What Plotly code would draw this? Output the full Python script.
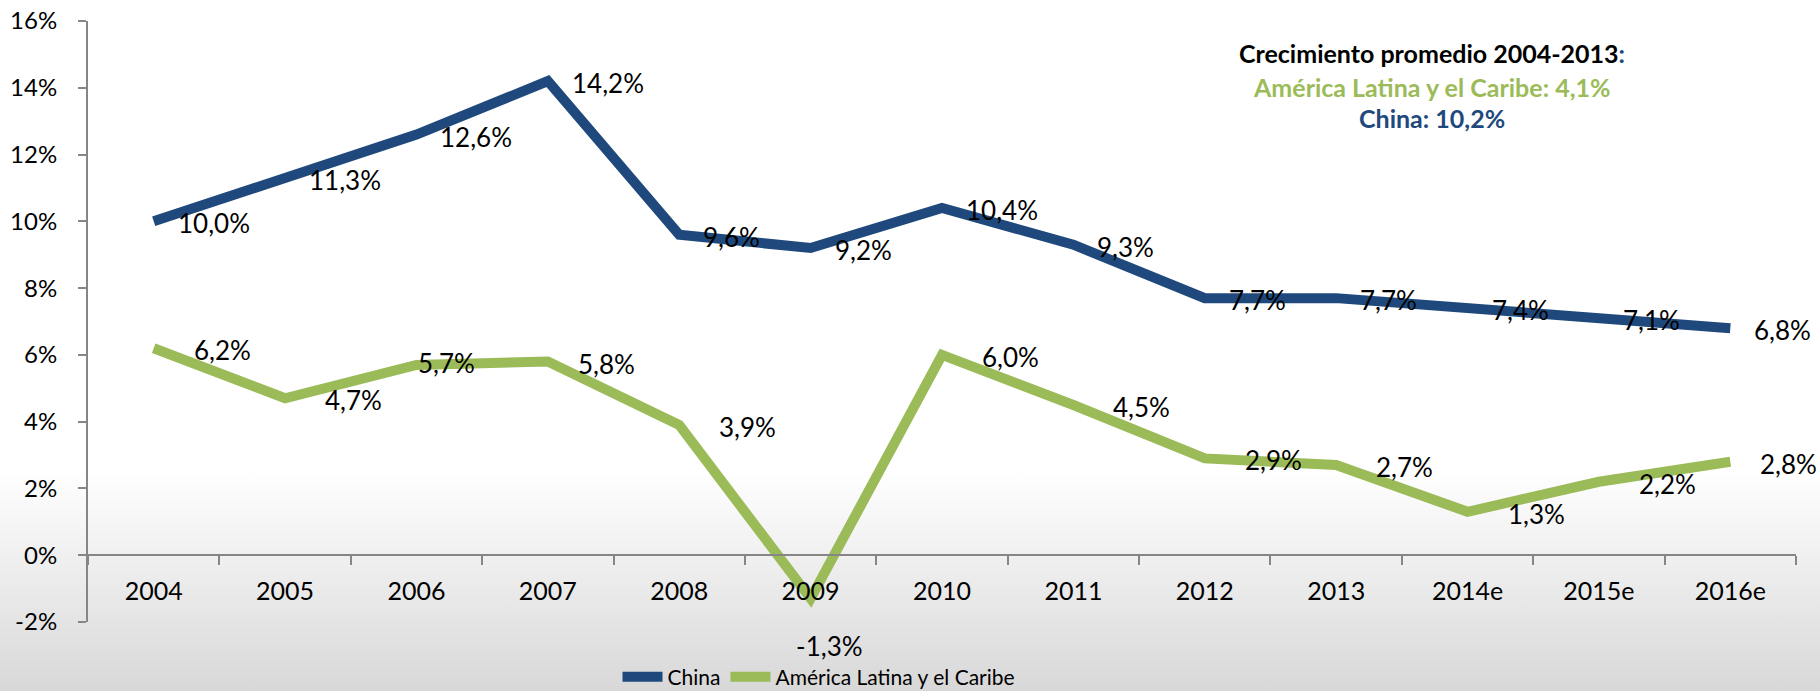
import base64

import plotly.graph_objects as go

years = ["2004", "2005", "2006", "2007", "2008", "2009", "2010",
         "2011", "2012", "2013", "2014e", "2015e", "2016e"]
china = [10.0, 11.3, 12.6, 14.2, 9.6, 9.2, 10.4, 9.3, 7.7, 7.7, 7.4, 7.1, 6.8]
latam = [6.2, 4.7, 5.7, 5.8, 3.9, -1.3, 6.0, 4.5, 2.9, 2.7, 1.3, 2.2, 2.8]
y_ticks = [-2, 0, 2, 4, 6, 8, 10, 12, 14, 16]

BLUE = "#1F497D"
GREEN = "#9BBB59"
FONT = "Lato, 'Open Sans', sans-serif"

W, H = 1820, 691
ML, MR, MT, MB = 88, 24, 21, 69
PW, PH = W - ML - MR, H - MT - MB


def px_x(p):
    return (p - ML) / PW


def px_y(p):
    return (H - MB - p) / PH


def pct(v):
    return f"{v:.1f}%".replace(".", ",")


# soft grey fade at the bottom of the page
svg = (
    '<svg xmlns="http://www.w3.org/2000/svg" width="100" height="100" '
    'viewBox="0 0 100 100" preserveAspectRatio="none"><defs>'
    '<linearGradient id="g" x1="0" y1="0" x2="0" y2="1">'
    '<stop offset="0" stop-color="#ffffff"/>'
    '<stop offset="0.68" stop-color="#ffffff"/>'
    '<stop offset="1" stop-color="#d8d8d8"/>'
    '</linearGradient></defs>'
    '<rect width="100" height="100" fill="url(#g)"/></svg>'
)
bg_src = "data:image/svg+xml;base64," + base64.b64encode(svg.encode()).decode()

fig = go.Figure()
fig.add_trace(go.Scatter(x=years, y=china, name="China", mode="lines",
                         line={"color": BLUE, "width": 10}))
fig.add_trace(go.Scatter(x=years, y=latam, name="América Latina y el Caribe",
                         mode="lines", line={"color": GREEN, "width": 10}))

# annotations on a category axis take the category index
label_font = {"family": FONT, "size": 26, "color": "#000000"}
for i, v in enumerate(china):
    fig.add_annotation(x=i, y=v, text=pct(v), showarrow=False, xanchor="left",
                       xshift=22, yshift=-2, font=label_font)

latam_shift = {"2006": (0, 4), "2007": (28, 0), "2016e": (28, 0)}
for i, (yr, v) in enumerate(zip(years, latam)):
    if yr == "2009":
        fig.add_annotation(x=i, y=v, text=pct(v), showarrow=False, xanchor="center",
                           xshift=19, yshift=-47, font=label_font)
        continue
    dx, dy = latam_shift.get(yr, (38, 0))
    fig.add_annotation(x=i, y=v, text=pct(v), showarrow=False, xanchor="left",
                       xshift=dx, yshift=dy - 2, font=label_font)

# average growth box
box_x = px_x(1432)
box_font = {"family": FONT, "size": 25}
fig.add_annotation(xref="paper", yref="paper", x=box_x, y=px_y(53), showarrow=False,
                   xanchor="center", yanchor="middle",
                   text=f"<b>Crecimiento promedio 2004-2013<span style='color:{BLUE}'>:</span></b>",
                   font={**box_font, "color": "#000000"})
fig.add_annotation(xref="paper", yref="paper", x=box_x, y=px_y(87), showarrow=False,
                   xanchor="center", yanchor="middle",
                   text="<b>América Latina y el Caribe: 4,1%</b>",
                   font={**box_font, "color": GREEN})
fig.add_annotation(xref="paper", yref="paper", x=box_x, y=px_y(118), showarrow=False,
                   xanchor="center", yanchor="middle",
                   text="<b>China: 10,2%</b>",
                   font={**box_font, "color": BLUE})

# source line, mostly cut off at the page edge
fig.add_annotation(xref="paper", yref="paper", x=px_x(92), y=px_y(687), showarrow=False,
                   xanchor="right", yanchor="top", text="Fuente: FMI",
                   font={"family": FONT, "size": 22, "color": "#000000"})

fig.update_layout(
    width=W,
    height=H,
    margin={"l": ML, "r": MR, "t": MT, "b": MB, "autoexpand": False},
    paper_bgcolor="#ffffff",
    plot_bgcolor="rgba(0,0,0,0)",
    font={"family": FONT, "size": 24, "color": "#000000"},
    showlegend=True,
    legend={
        "orientation": "h",
        "xref": "paper",
        "x": px_x(819),
        "xanchor": "center",
        "yref": "container",
        "y": 1 - 677 / H,
        "yanchor": "middle",
        "font": {"family": FONT, "size": 21},
        "bgcolor": "rgba(0,0,0,0)",
        "itemwidth": 40,
        "tracegroupgap": 0,
    },
    images=[{
        "source": bg_src,
        "xref": "paper",
        "yref": "paper",
        "x": px_x(0),
        "y": px_y(0),
        "sizex": W / PW,
        "sizey": H / PH,
        "xanchor": "left",
        "yanchor": "top",
        "sizing": "stretch",
        "layer": "below",
    }],
    xaxis={
        "type": "category",
        "range": [-0.5, len(years) - 0.5],
        "anchor": "free",
        "position": 2 / 18,
        "automargin": False,
        "showline": True,
        "linecolor": "#868686",
        "linewidth": 2,
        "ticks": "outside",
        "tickson": "boundaries",
        "ticklen": 9,
        "tickwidth": 2,
        "tickcolor": "#868686",
        "ticklabelstandoff": 14,
        "showgrid": False,
        "zeroline": False,
        "tickfont": {"family": FONT, "size": 25},
    },
    yaxis={
        "range": [-2, 16],
        "automargin": False,
        "tickvals": y_ticks,
        "ticktext": [f"{t}%" for t in y_ticks],
        "showline": True,
        "linecolor": "#868686",
        "linewidth": 2,
        "ticks": "outside",
        "ticklen": 8,
        "tickwidth": 2,
        "tickcolor": "#868686",
        "ticklabelstandoff": 16,
        "showgrid": False,
        "zeroline": False,
        "tickfont": {"family": FONT, "size": 24},
    },
)

# the page's default body margin would shift the figure by 8px
fig.write_html("out.html", config={"displayModeBar": False},
               post_script="document.body.style.margin = '0';")
